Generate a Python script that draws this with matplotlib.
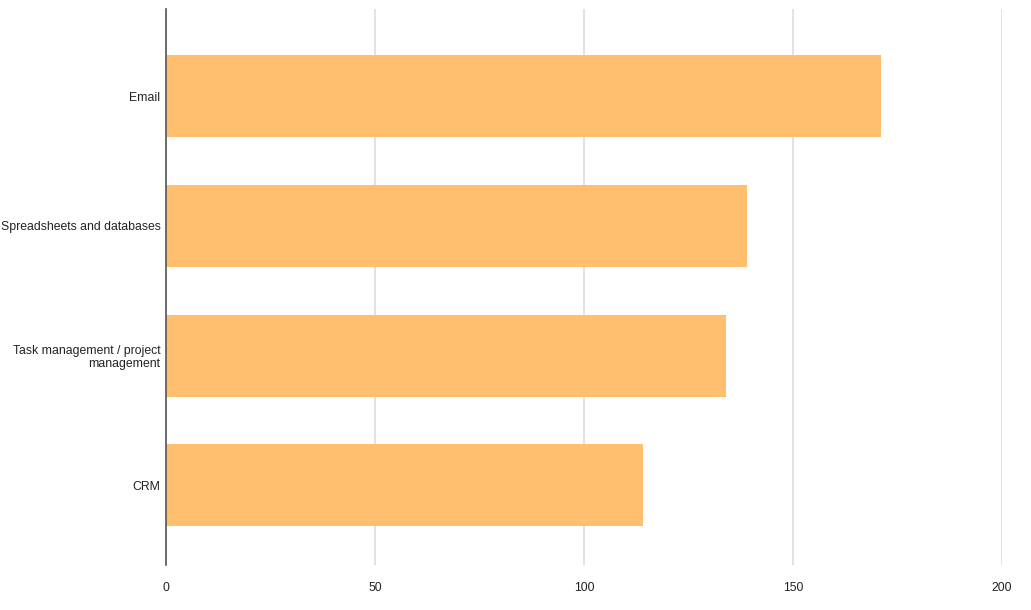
import matplotlib
matplotlib.use("Agg")
import matplotlib.pyplot as plt

categories = ["Email", "Spreadsheets and databases", "Task management / project\nmanagement", "CRM"]
values = [171, 139, 134, 114]
xticks = [0, 50, 100, 150, 200]

plt.rcParams['font.family'] = ['Liberation Sans', 'DejaVu Sans']

fig = plt.figure(figsize=(10.31, 6.10), dpi=100)
ax = fig.add_axes([166/1031, 1-565/610, (1002-166)/1031, (565-9)/610])

ypos = list(range(len(categories)))
ax.barh(ypos, values, height=0.632, color="#FFBF6F", zorder=2)
ax.set_ylim(3.613, -0.671)
ax.set_xlim(0, 200)
ax.set_xticks(xticks)
ax.set_xticklabels([str(x) for x in xticks])
ax.set_yticks(ypos)
ax.set_yticklabels(categories, fontsize=8.8, color="#222222", linespacing=1.05)
for lbl in ax.get_yticklabels():
    lbl.set_horizontalalignment('right')
    lbl.set_multialignment('right')
ax.tick_params(axis='x', labelsize=8.8, labelcolor="#222222", length=0, pad=12)
ax.tick_params(axis='y', length=0, pad=4)
ax.grid(axis='x', color="#dddddd", linewidth=1.2, zorder=0)
ax.set_axisbelow(True)
for s in ['top', 'right', 'bottom']:
    ax.spines[s].set_visible(False)
ax.spines['left'].set_color("#555555")
ax.spines['left'].set_linewidth(1.2)
ax.spines['left'].set_zorder(3)

fig.savefig("out.png", dpi=100)
